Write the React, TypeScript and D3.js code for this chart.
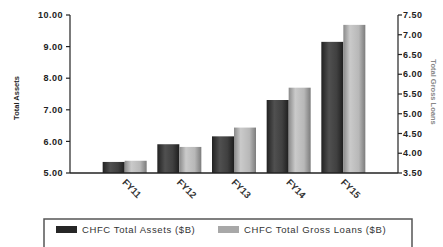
import React from 'react';
import * as d3 from 'd3';

const categories = ['FY11', 'FY12', 'FY13', 'FY14', 'FY15'];
const totalAssets = [5.35, 5.91, 6.16, 7.31, 9.15];
const grossLoans = [3.81, 4.16, 4.65, 5.66, 7.25];
const leftTicks = [5, 6, 7, 8, 9, 10];
const rightTicks = [3.5, 4, 4.5, 5, 5.5, 6, 6.5, 7, 7.5];
const seriesNames = ['CHFC Total Assets ($B)', 'CHFC Total Gross Loans ($B)'];

const W = 443;
const H = 247;
const left = 70;
const right = 398;
const top = 15;
const bottom = 173;
const barW = 22;
const font = 'Liberation Sans, Arial, sans-serif';

const App = () => {
  const x = d3.scalePoint<string>().domain(categories).range([left, right]).padding(1);
  const yL = d3.scaleLinear().domain([5, 10]).range([bottom, top]);
  const yR = d3.scaleLinear().domain([3.5, 7.5]).range([bottom, top]);

  return (
    <svg width={W} height={H} style={{ position: 'absolute', left: 0, top: 0, background: '#fff' }}>
      <defs>
        <linearGradient id="dark" x1="0" x2="1" y1="0" y2="0">
          <stop offset="0" stopColor="#222" />
          <stop offset="0.35" stopColor="#505050" />
          <stop offset="0.7" stopColor="#404040" />
          <stop offset="1" stopColor="#1e1e1e" />
        </linearGradient>
        <linearGradient id="light" x1="0" x2="1" y1="0" y2="0">
          <stop offset="0" stopColor="#8a8a8a" />
          <stop offset="0.3" stopColor="#cacaca" />
          <stop offset="0.7" stopColor="#b8b8b8" />
          <stop offset="1" stopColor="#7c7c7c" />
        </linearGradient>
      </defs>

      {/* bars */}
      {categories.map((c, i) => (
        <g key={c}>
          <rect x={x(c)! - barW} y={yL(totalAssets[i])} width={barW} height={bottom - yL(totalAssets[i])} fill="url(#dark)" />
          <rect x={x(c)!} y={yR(grossLoans[i])} width={barW} height={bottom - yR(grossLoans[i])} fill="url(#light)" />
        </g>
      ))}

      {/* axes */}
      <g stroke="#222" strokeWidth={1.2} fill="none">
        <line x1={left} x2={left} y1={top} y2={bottom} />
        <line x1={right} x2={right} y1={top} y2={bottom} />
        <line x1={left} x2={right} y1={bottom} y2={bottom} strokeWidth={1.6} />
        {leftTicks.map(t => (
          <line key={t} x1={left - 4} x2={left} y1={yL(t)} y2={yL(t)} />
        ))}
        {rightTicks.map(t => (
          <line key={t} x1={right} x2={right + 4} y1={yR(t)} y2={yR(t)} />
        ))}
      </g>

      <g fontFamily={font} fill="#222" fontWeight="bold">
        {leftTicks.map(t => (
          <text key={t} x={left - 7} y={yL(t)} dy="0.35em" textAnchor="end" fontSize={9} letterSpacing={0.5}>{t.toFixed(2)}</text>
        ))}
        {rightTicks.map(t => (
          <text key={t} x={right + 5} y={yR(t)} dy="0.35em" fontSize={9} letterSpacing={0.5}>{t.toFixed(2)}</text>
        ))}
        {categories.map(c => (
          <text key={c} transform={`translate(${x(c)! - 3},${bottom + 10}) rotate(45)`} fontSize={9.5} fill="#333">{c}</text>
        ))}
        <text transform={`translate(19,98) rotate(-90)`} textAnchor="middle" fontSize={7.5}>Total Assets</text>
        <text transform={`translate(431,92) rotate(90)`} textAnchor="middle" fontSize={7.5} fill="#888">Total Gross Loans</text>
      </g>

      {/* legend */}
      <rect x={44} y={219} width={368} height={30} fill="none" stroke="#555" strokeWidth={1.5} />
      {seriesNames.map((s, i) => (
        <g key={s} transform={`translate(${i === 0 ? 56 : 218},226)`}>
          <rect width={21} height={7} fill={i === 0 ? '#262626' : '#a8a8a8'} />
          <text x={26} y={3.5} dy="0.35em" fontFamily={font} fontSize={9.5} letterSpacing={0.6} fill="#333">{s}</text>
        </g>
      ))}
    </svg>
  );
};

export default App;
